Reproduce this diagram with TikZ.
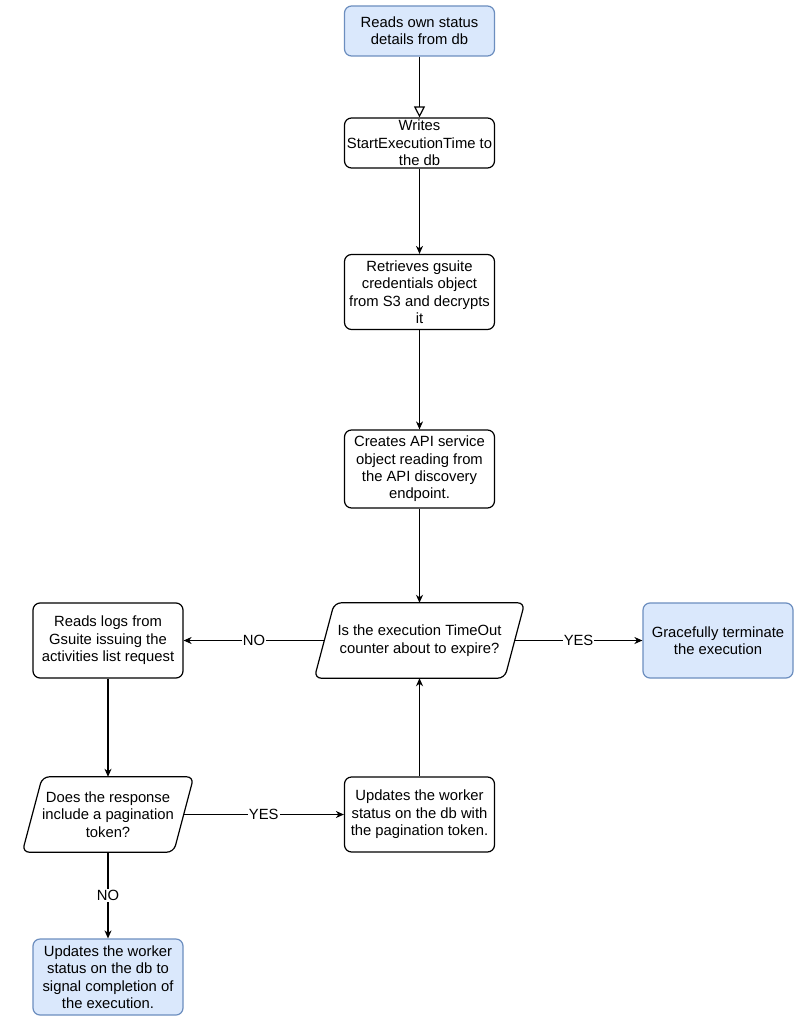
\documentclass[tikz,border=0pt]{standalone}
\usepackage{fontspec}
\setmainfont{Liberation Sans}
\usetikzlibrary{arrows.meta,calc}
\definecolor{bluefill}{HTML}{DAE8FC}
\definecolor{blueline}{HTML}{6C8EBF}
\begin{document}
\begin{tikzpicture}[x=1pt,y=-1pt,
  font=\fontsize{14.8}{17.4}\selectfont,
  box/.style={draw, line width=1.2pt, rounded corners=7pt, minimum width=150pt, align=center, inner xsep=0pt, inner ysep=0pt},
  bluebox/.style={box, draw=blueline, fill=bluefill},
  decnode/.style={minimum height=75pt, align=center, inner sep=0pt},
  decshape/.style={line width=1.2pt, rounded corners=7pt},
  flow/.style={line width=1.2pt, -{Stealth[length=8pt,width=7pt,inset=2.5pt]}},
  lbl/.style={fill=white, inner sep=1pt}
]
\useasboundingbox[fill=white] (0,0) rectangle (800,1019);

\node[bluebox, minimum height=50pt] (n1) at (419.5,31) {Reads own status\\details from db};
\node[box, minimum height=50pt] (n2) at (419.5,143) {Writes\\StartExecutionTime to\\the db};
\node[box, minimum height=75pt] (n3) at (419.5,292) {Retrieves gsuite\\credentials object\\from S3 and decrypts\\it};
\node[box, minimum height=78pt] (n4) at (419.5,469) {Creates API service\\object reading from\\the API discovery\\endpoint.};

\node[decnode, minimum width=190pt] (q1) at (419.5,640.5) {Is the execution TimeOut\\counter about to expire?};
\draw[decshape] (q1.north) -- ($(q1.north east)+(10,0)$) -- ($(q1.south east)+(-10,0)$) -- ($(q1.south west)+(-10,0)$) -- ($(q1.north west)+(10,0)$) -- cycle;

\node[bluebox, minimum height=75pt] (n6) at (718,640.5) {Gracefully terminate\\the execution};
\node[box, minimum height=75pt] (n7) at (108,640.5) {Reads logs from\\Gsuite issuing the\\activities list request};

\node[decnode, minimum width=151pt] (q2) at (108,814.5) {Does the response\\include a pagination\\token?};
\draw[decshape] (q2.north) -- ($(q2.north east)+(10,0)$) -- ($(q2.south east)+(-10,0)$) -- ($(q2.south west)+(-10,0)$) -- ($(q2.north west)+(10,0)$) -- cycle;

\node[box, minimum height=75pt] (n9) at (419.5,814.5) {Updates the worker\\status on the db with\\the pagination token.};
\node[bluebox, minimum height=76pt] (n10) at (108,977) {Updates the worker\\status on the db to\\signal completion of\\the execution.};

\draw[line width=1.2pt, -{Triangle[open,length=11pt,width=11pt]}] (n1) -- (n2);
\draw[flow] (n2) -- (n3);
\draw[flow] (n3) -- (n4);
\draw[flow] (n4) -- (q1);
\draw[flow] (q1) -- node[lbl]{YES} (n6);
\draw[flow] (q1) -- node[lbl]{NO} (n7);
\draw[flow] (n7) -- (q2);
\draw[flow] (q2) -- node[lbl]{YES} (n9);
\draw[flow] (n9) -- (q1);
\draw[flow] (q2) -- node[lbl]{NO} (n10);
\end{tikzpicture}
\end{document}
